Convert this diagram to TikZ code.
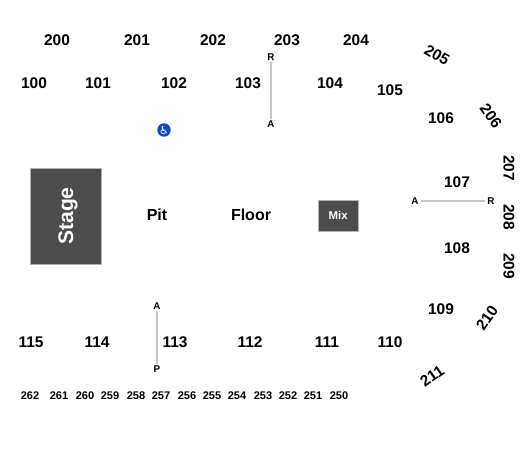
\documentclass[tikz,border=0pt]{standalone}
\usepackage{fontspec}
\setmainfont{Liberation Sans}
\newfontfamily\symfont{DejaVu Sans}
\usepackage{xcolor}
\definecolor{stagegray}{HTML}{4D4D4D}
\definecolor{accessblue}{HTML}{1446D2}
\tikzset{
  sectlbl/.style={font=\fontsize{8.8}{10}\selectfont\bfseries, inner sep=0pt},
  seatlbl/.style={font=\fontsize{6.3}{8}\selectfont\bfseries, inner sep=0pt},
  rowlbl/.style={font=\fontsize{5.6}{7}\selectfont\bfseries, inner sep=0pt},
  floorbox/.style={fill=stagegray, draw=gray!60, line width=0.25pt, text=white, inner sep=0pt, font=\bfseries},
  aisle/.style={draw=gray!45, line width=0.7pt, shorten >=1pt, shorten <=1pt},
}
\begin{document}
\begin{tikzpicture}[x=0.02cm, y=-0.02cm]
\useasboundingbox (0,0) rectangle (525,449);
% upper ring
\foreach \x/\y/\lbl/\ang in {
    57/40/200/0, 137/40/201/0, 213/40/202/0, 287/40/203/0, 356/40/204/0,
    437/55/205/-30, 491/116/206/-55, 509/168/207/-90, 509/217/208/-90,
    509/266/209/-90, 487/318/210/55, 432/376/211/35}{
  \node[sectlbl, rotate=\ang] (s\lbl) at (\x,\y) {\lbl};
}
% lower bowl
\foreach \x/\y/\lbl in {
    34/83/100, 98/83/101, 174/83/102, 248/83/103, 330/83/104, 390/90/105,
    441/118/106, 457/182/107, 457/248/108, 441/309/109, 390/342/110,
    327/342/111, 250/342/112, 175/342/113, 97/342/114, 31/342/115}{
  \node[sectlbl] (s\lbl) at (\x,\y) {\lbl};
}
% balcony row
\foreach \x/\lbl in {
    30/262, 59/261, 85/260, 110/259, 136/258, 161/257, 187/256,
    212/255, 237/254, 263/253, 288/252, 313/251, 339/250}{
  \node[seatlbl] (s\lbl) at (\x,395.5) {\lbl};
}
% floor
\node[floorbox, minimum width=1.92cm, minimum height=1.41cm, rotate=90, text depth=0pt, font=\fontsize{12}{14}\selectfont\bfseries] (stage) at (65.75,216) {Stage};
\node[floorbox, minimum width=0.79cm, minimum height=0.62cm, font=\fontsize{6.5}{8}\selectfont\bfseries] (mix) at (338.25,215.5) {Mix};
\node[sectlbl, font=\fontsize{9.1}{11}\selectfont\bfseries] (pit) at (157,215) {Pit};
\node[sectlbl, font=\fontsize{9.1}{11}\selectfont\bfseries] (floor) at (251,215) {Floor};
\node[circle, fill=accessblue, text=white, minimum size=0.27cm, inner sep=0pt, font=\symfont\fontsize{6.3}{7}\selectfont] (access) at (164,130) {♿};
% aisles
\node[rowlbl] (r1) at (271,57) {R};
\node[rowlbl] (a1) at (271,124) {A};
\node[rowlbl] (a2) at (415,201) {A};
\node[rowlbl] (r2) at (491,201) {R};
\node[rowlbl] (a3) at (157,306) {A};
\node[rowlbl] (p3) at (157,369) {P};
\draw[aisle] (r1) -- (a1);
\draw[aisle] (a2) -- (r2);
\draw[aisle] (a3) -- (p3);
\end{tikzpicture}
\end{document}
